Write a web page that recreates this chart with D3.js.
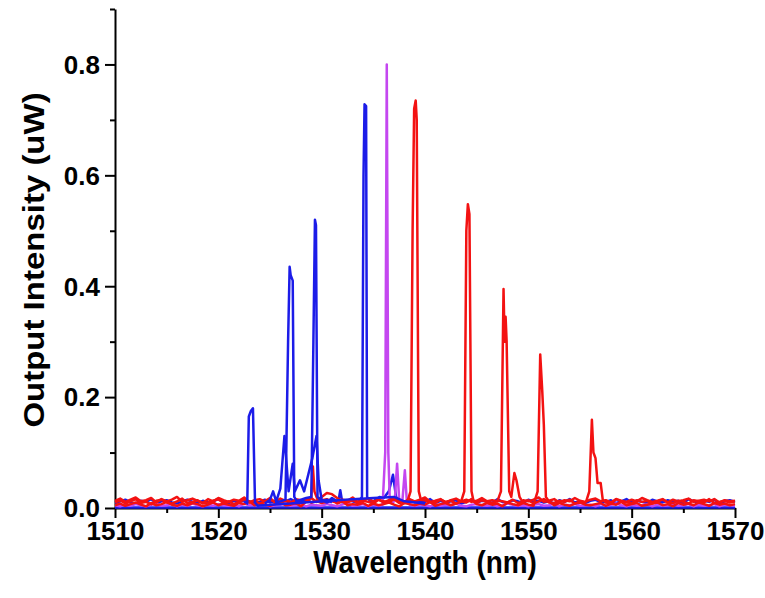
<!DOCTYPE html>
<html>
<head>
<meta charset="utf-8">
<script src="https://cdn.jsdelivr.net/npm/d3@7"></script>
<style>
  body { margin: 0; background: #fff; }
  text { font-family: "Liberation Sans", Arial, sans-serif; font-weight: bold; fill: #000; }
</style>
</head>
<body>
<svg id="chart" width="765" height="598"></svg>
<script>
// axis ticks
var xTicks = [1510, 1520, 1530, 1540, 1550, 1560, 1570];
var xMinor = [1515, 1525, 1535, 1545, 1555, 1565];
var yTicks = [0.0, 0.2, 0.4, 0.6, 0.8];
var yMinor = [0.1, 0.3, 0.5, 0.7, 0.9];

// baseline noise of each spectrum, in 0.001 uW, one value every 0.5 nm from 1510 nm
var noiseStart = 1510, noiseStep = 0.5;
var redNoise1 = [10,14,8,12,16,9,11,7,13,15, 10,8,12,17,9,11,14,8,10,13, 16,9,12,7,11,15,10,13,8,12,
  18,10,9,14,11,8,12,16,10,13, 9,11,15,8,12,10,14,9,13,11, 8,15,12,10,16,9,11,13,8,12,
  14,10,9,15,11,13,8,12,10,16, 9,14,11,8,13,12,10,15,9,11, 14,8,12,16,10,9,13,11,15,8,
  12,10,14,9,11,13,8,16,12,10, 9,14,11,13,8,12,15,10,9,13, 11,8,14,12,10,16,9,11,13,10, 12];
var redNoise2 = [5,8,4,7,10,6,3,9,5,7, 11,6,4,8,5,9,7,3,6,10, 5,8,6,4,9,7,12,5,8,6,
  4,7,10,5,6,9,3,8,7,5, 10,6,4,8,11,5,7,6,9,4, 8,5,7,10,6,3,9,7,5,8,
  6,11,4,7,9,5,8,6,10,4, 7,5,9,6,8,3,10,7,5,9, 6,4,8,11,7,5,9,6,4,8,
  10,6,5,7,9,4,8,6,11,5, 7,9,4,6,8,10,5,7,3,9, 6,8,5,10,7,4,9,6,8,5, 7];
var redNoise3 = [13,17,11,15,19,12,14,18,10,16, 12,15,20,11,14,17,13,9,16,12, 18,14,11,15,13,19,10,14,16,12,
  15,11,17,13,9,16,14,12,18,11, 14,16,12,10,15,13,19,11,14,17, 12,15,10,14,18,13,11,16,12,15,
  19,11,13,16,10,14,17,12,15,11, 13,18,12,14,10,16,13,11,17,14, 12,15,19,11,13,16,10,14,12,18,
  13,11,15,17,12,14,10,16,13,11, 15,12,18,14,11,13,16,10,15,12, 14,17,11,13,15,12,16,10,14,12, 13];
var blueNoise1 = [9,12,15,10,8,13,11,16,9,12, 14,10,8,12,15,11,9,13,10,12, 16,11,9,13,10,14,12,8,11,15,
  10,13,9,12,16,11,8,14,10,12, 13,9,15,11,10,14,12,9,13,17, 10,12,8,14,11,13,9,15,10,12,
  11,16,9,13,10,12,14,8,11,15, 10,13,12,9,16,11,10,14,12,9, 15,11,13,10,12,8,14,11,16,10,
  12,9,13,15,10,11,14,9,12,16, 10,13,11,9,15,12,10,14,11,13, 9,16,12,10,13,11,15,9,12,14, 11];
var purpleNoise = [5,3,6,4,7,5,3,6,8,4, 5,7,3,6,4,8,5,3,6,4, 7,5,4,6,3,8,5,6,4,7,
  3,5,6,8,4,5,7,3,6,5, 4,7,5,3,6,9,4,5,7,3, 6,4,5,8,3,6,5,7,4,6,
  5,3,7,4,6,5,8,4,3,6, 7,5,4,6,3,5,8,6,4,5, 3,6,7,4,5,8,3,6,5,7,
  4,5,6,3,7,4,6,8,5,3, 6,4,5,7,3,6,4,5,8,4, 5,7,3,6,4,5,7,3,6,5, 4];

// lasing lines: [wavelength nm, intensity uW]
var red1539 = [[1538.3,0.012],[1538.6,0.03],[1538.8,0.5],[1538.95,0.72],[1539.1,0.735],[1539.2,0.7],[1539.4,0.03],[1539.6,0.015]];
var red1544 = [[1543.5,0.012],[1543.8,0.03],[1544.0,0.5],[1544.15,0.548],[1544.3,0.53],[1544.5,0.03],[1544.7,0.012]];
var red1547 = [[1547.0,0.012],[1547.35,0.03],[1547.6,0.395],[1547.7,0.3],[1547.8,0.345],[1547.9,0.3],[1548.15,0.03],
  [1548.35,0.02],[1548.65,0.063],[1548.85,0.05],[1549.15,0.02],[1549.4,0.012]];
var red1551 = [[1550.6,0.012],[1550.9,0.03],[1551.15,0.277],[1551.35,0.21],[1551.5,0.15],[1551.7,0.02],[1552.0,0.012]];
var red1556 = [[1555.6,0.012],[1555.9,0.03],[1556.15,0.159],[1556.3,0.1],[1556.5,0.09],[1556.7,0.045],[1557.0,0.045],[1557.2,0.015],[1557.5,0.01]];
var red1529 = [[1528.5,0.012],[1529.0,0.02],[1529.15,0.075],[1529.3,0.03],[1529.6,0.015],[1530.0,0.02],[1530.5,0.027],[1531.0,0.025],[1531.5,0.018],[1532.0,0.012]];

var blue1532 = [[1531.6,0.01],[1531.8,0.032],[1532.0,0.01]];
var blue1534 = [[1533.6,0.012],[1533.9,0.02],[1534.05,0.6],[1534.15,0.728],[1534.3,0.725],[1534.4,0.02],[1534.7,0.012]];
var blue1537 = [[1535.0,0.012],[1535.6,0.02],[1536.0,0.018],[1536.5,0.03],[1536.9,0.06],[1537.2,0.02],[1537.6,0.012]];
var blueFlat = [[1510,0.001],[1570,0.001]];
var blue1523 = [[1522.5,0.012],[1522.8,0.008],[1522.95,0.165],[1523.15,0.175],[1523.35,0.18],[1523.55,0.01],[1523.8,0.004],
  [1525,0.006],[1527,0.008],[1529,0.011],[1531,0.013],[1533,0.016],[1535,0.018],[1537,0.02],[1538,0.012],[1540,0.008]];
var blue1527 = [[1525.5,0.01],[1526.0,0.012],[1526.5,0.015],[1526.75,0.3],[1526.9,0.435],[1527.0,0.42],[1527.2,0.41],
  [1527.35,0.02],[1527.6,0.012],[1528.0,0.014],[1528.5,0.01]];
var blue1529 = [[1527.5,0.012],[1528.0,0.015],[1528.5,0.018],[1529.0,0.02],[1529.2,0.3],[1529.35,0.52],[1529.45,0.51],
  [1529.6,0.02],[1530.0,0.012],[1530.5,0.015],[1531.0,0.01]];
var blueSmall = [[1524.5,0.008],[1525.0,0.015],[1525.3,0.03],[1525.6,0.012],[1526.0,0.035],[1526.4,0.13],[1526.6,0.08],
  [1526.8,0.03],[1527.2,0.08],[1527.4,0.03],[1527.9,0.05],[1528.3,0.03],[1528.7,0.06],[1529.1,0.09],[1529.5,0.13],
  [1529.7,0.05],[1530.0,0.015],[1530.5,0.01],[1531.0,0.018],[1531.5,0.012]];

var purple1536 = [[1535.9,0.006],[1536.15,0.1],[1536.3,0.8],[1536.45,0.1],[1536.6,0.01],[1536.9,0.008],[1537.1,0.02],
  [1537.3,0.08],[1537.5,0.015],[1537.8,0.01],[1538.05,0.068],[1538.25,0.01],[1538.5,0.006]];

var red = "#f31212", blue = "#1c1ce8", purple = "#c447f0";

var traces = [
  {color: blue, points: blueFlat},
  {color: blue, noise: blueNoise1, peaks: [blue1532, blue1534, blue1537]},
  {color: purple, noise: purpleNoise, peaks: [purple1536]},
  {color: red, noise: redNoise3, peaks: [red1547]},
  {color: red, noise: redNoise1, peaks: [red1539, red1556]},
  {color: red, noise: redNoise2, peaks: [red1544, red1551, red1529]},
  {color: blue, points: blue1523},
  {color: blue, points: blueSmall},
  {color: blue, points: blue1527},
  {color: blue, points: blue1529}
];

function tracePoints(t) {
  if (t.points) return t.points;
  var spans = t.peaks.map(function(p) { return [p[0][0], p[p.length - 1][0]]; });
  var pts = [];
  t.noise.forEach(function(v, i) {
    var w = noiseStart + i * noiseStep;
    var inPeak = spans.some(function(s) { return w >= s[0] && w <= s[1]; });
    if (!inPeak) pts.push([w, v / 1000]);
  });
  t.peaks.forEach(function(p) { pts = pts.concat(p); });
  return pts.sort(function(a, b) { return a[0] - b[0]; });
}

var svg = d3.select("#chart");

var x = d3.scaleLinear().domain([1510, 1570]).range([115, 735]);
var y = d3.scaleLinear().domain([0, 0.9]).range([508, 9]);

// axes
var gx = svg.append("g").attr("transform", "translate(0,508)");
gx.call(d3.axisBottom(x).tickValues(xTicks).tickSize(10).tickSizeOuter(0).tickPadding(5).tickFormat(d3.format("d")));
gx.append("g").call(d3.axisBottom(x).tickValues(xMinor).tickSize(5).tickFormat(""))
  .select(".domain").remove();

var gy = svg.append("g").attr("transform", "translate(115,0)");
gy.call(d3.axisLeft(y).tickValues(yTicks).tickSize(10).tickSizeOuter(0).tickPadding(5).tickFormat(d3.format(".1f")));
gy.append("g").call(d3.axisLeft(y).tickValues(yMinor).tickSize(5).tickFormat(""))
  .select(".domain").remove();

svg.selectAll(".domain, .tick line").attr("stroke", "#000").attr("stroke-width", 2);
gx.selectAll(".tick text").style("font-size", "26px").attr("dy", "0.66em");
gy.selectAll(".tick text").style("font-size", "26px").attr("dy", "0.34em");

// spectra
var line = d3.line()
  .x(function(d) { return x(d[0]); })
  .y(function(d) { return y(d[1]); });

svg.append("g").selectAll("path")
  .data(traces)
  .enter().append("path")
    .attr("d", function(t) { return line(tracePoints(t)); })
    .attr("fill", "none")
    .attr("stroke", function(t) { return t.color; })
    .attr("stroke-width", 2.5)
    .attr("stroke-linejoin", "round");

// titles
svg.append("text")
  .attr("transform", "translate(425,573) scale(0.9,1)")
  .attr("text-anchor", "middle")
  .style("font-size", "31px")
  .text("Wavelength (nm)");

svg.append("text")
  .attr("transform", "translate(44,260) scale(0.9,1) rotate(-90)")
  .attr("text-anchor", "middle")
  .style("font-size", "33px")
  .text("Output Intensity (uW)");
</script>
</body>
</html>
